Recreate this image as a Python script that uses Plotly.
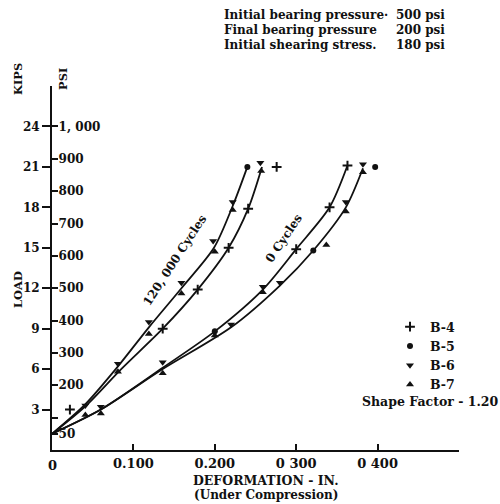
import plotly.graph_objects as go

# ---- data (deformation in inches, load in kips) ----
c120a_x = [0.0, 0.041, 0.081, 0.119, 0.159, 0.199, 0.222, 0.240]
c120a_y = [1.2, 3.4, 6.2, 9.1, 12.0, 15.0, 18.1, 21.0]
c120b_x = [0.0, 0.042, 0.085, 0.136, 0.179, 0.217, 0.241, 0.258]
c120b_y = [1.2, 3.3, 6.0, 9.0, 11.9, 15.0, 17.9, 21.0]
c0a_x = [0.0, 0.060, 0.136, 0.200, 0.259, 0.300, 0.341, 0.363]
c0a_y = [1.2, 3.0, 6.1, 8.8, 11.9, 14.9, 18.0, 21.1]
c0b_x = [0.0, 0.060, 0.136, 0.220, 0.280, 0.321, 0.361, 0.382]
c0b_y = [1.2, 3.0, 6.0, 9.1, 12.2, 14.8, 18.0, 20.9]

b4_x = [0.022, 0.136, 0.179, 0.217, 0.241, 0.276, 0.300, 0.341, 0.363]
b4_y = [3.0, 9.0, 11.9, 15.0, 17.9, 21.0, 14.9, 18.0, 21.1]
b5_x = [0.240, 0.397, 0.321, 0.200]
b5_y = [21.0, 21.0, 14.8, 8.8]
b6_x = [0.041, 0.081, 0.119, 0.159, 0.198, 0.222, 0.256, 0.060, 0.136, 0.220, 0.259, 0.280, 0.361, 0.382]
b6_y = [3.3, 6.4, 9.5, 12.4, 15.5, 18.4, 21.3, 3.2, 6.5, 9.3, 12.1, 12.4, 18.4, 21.2]
b7_x = [0.041, 0.081, 0.119, 0.159, 0.200, 0.222, 0.257, 0.060, 0.136, 0.200, 0.259, 0.337, 0.361, 0.382]
b7_y = [2.6, 5.8, 8.6, 11.6, 14.7, 17.8, 20.7, 2.7, 5.7, 8.5, 11.7, 15.2, 17.7, 20.6]

x_ticks = [0.0, 0.1, 0.2, 0.3, 0.4]
x_ticktext = ["", "0.100", "0.200", "0 300", "0 400"]
kips_ticks = [3, 6, 9, 12, 15, 18, 21, 24]
psi_ticks = [50, 100, 200, 300, 400, 500, 600, 700, 800, 900, 1000]
psi_ticktext = ["50", "", "200", "300", "400", "500", "600", "700", "800", "900", "1, 000"]
KIPS_PER_PSI = 0.024
Y_MAX = 27.0

header_left = ["Initial bearing pressure·", "Final bearing pressure", "Initial shearing stress."]
header_right = ["500 psi", "200 psi", "180 psi"]

FONT = "DejaVu Serif"
BLACK = "#111111"

fig = go.Figure()
for xs, ys in [(c120a_x, c120a_y), (c120b_x, c120b_y), (c0a_x, c0a_y), (c0b_x, c0b_y)]:
    fig.add_trace(go.Scatter(x=xs, y=ys, mode="lines", showlegend=False,
                             line=dict(color=BLACK, width=1.8, shape="spline", smoothing=0.8),
                             hoverinfo="skip"))

fig.add_trace(go.Scatter(x=b4_x, y=b4_y, mode="markers", name="B-4",
                         marker=dict(symbol="cross-thin", size=7, color=BLACK, line=dict(color=BLACK, width=2))))
fig.add_trace(go.Scatter(x=b5_x, y=b5_y, mode="markers", name="B-5",
                         marker=dict(symbol="circle", size=6, color=BLACK)))
fig.add_trace(go.Scatter(x=b6_x, y=b6_y, mode="markers", name="B-6",
                         marker=dict(symbol="triangle-down", size=7, color=BLACK)))
fig.add_trace(go.Scatter(x=b7_x, y=b7_y, mode="markers", name="B-7",
                         marker=dict(symbol="triangle-up", size=7, color=BLACK)))
# invisible trace to activate PSI axis
fig.add_trace(go.Scatter(x=[None], y=[None], yaxis="y2", showlegend=False, hoverinfo="skip"))

W, H = 500, 504
L, R, T, B = 52, 41, 86, 54
PW, PH = W - L - R, H - T - B

def px(xp):
    return (xp - L) / PW

def py(yp):
    return (H - B - yp) / PH

def fnt(size):
    return dict(family=FONT, size=size, color=BLACK, weight="bold")

annos = []
for i, (a, b) in enumerate(zip(header_left, header_right)):
    yy = 15 + 15 * i
    annos.append(dict(text=a, x=px(222), y=py(yy), xanchor="left", yanchor="middle", font=fnt(12)))
    annos.append(dict(text=b, x=px(394), y=py(yy), xanchor="left", yanchor="middle", font=fnt(12)))
annos += [
    dict(text="0", x=0, xref="x", y=py(465), xanchor="center", yanchor="middle", font=fnt(13)),
    dict(text="KIPS", x=px(18), y=py(79), textangle=-90, xanchor="center", yanchor="middle", font=fnt(11.5)),
    dict(text="PSI", x=px(63), y=py(79), textangle=-90, xanchor="center", yanchor="middle", font=fnt(11.5)),
    dict(text="LOAD", x=px(18), y=py(290), textangle=-90, xanchor="center", yanchor="middle", font=fnt(11.5)),
    dict(text="DEFORMATION - IN.", x=px(266), y=py(480), xanchor="center", yanchor="middle", font=fnt(12.5)),
    dict(text="(Under Compression)", x=px(266), y=py(495), xanchor="center", yanchor="middle", font=fnt(12)),
    dict(text="120, 000 Cycles", x=px(175), y=py(260), textangle=-57, xanchor="center", yanchor="middle", font=fnt(12)),
    dict(text="0 Cycles", x=px(284), y=py(238), textangle=-56, xanchor="center", yanchor="middle", font=fnt(12)),
    dict(text="Shape Factor - 1.20", x=px(430), y=py(401), xanchor="center", yanchor="middle", font=fnt(12.5)),
]
for a in annos:
    a.setdefault("xref", "paper")
    a.update(yref="paper", showarrow=False)

fig.update_layout(
    width=W, height=H,
    margin=dict(l=L, r=R, t=T, b=B),
    paper_bgcolor="white", plot_bgcolor="white",
    font=fnt(12),
    xaxis=dict(range=[0, 0.5], showgrid=False, zeroline=False, showline=True,
               linecolor=BLACK, linewidth=2, ticks="inside", ticklen=6, tickwidth=2,
               tickcolor=BLACK, tickvals=x_ticks, ticktext=x_ticktext, tickfont=fnt(13)),
    yaxis=dict(range=[0, Y_MAX], showgrid=False, zeroline=False, showline=True,
               linecolor=BLACK, linewidth=2, ticks="outside", ticklen=8, tickwidth=2,
               tickcolor=BLACK, tickvals=kips_ticks, tickfont=fnt(12)),
    yaxis2=dict(range=[0, Y_MAX / KIPS_PER_PSI], overlaying="y", side="left", anchor="x",
                showgrid=False, zeroline=False, showline=False, ticks="inside",
                ticklabelposition="inside", ticklen=6, tickwidth=2, tickcolor=BLACK,
                tickvals=psi_ticks, ticktext=psi_ticktext, tickfont=fnt(12)),
    legend=dict(x=px(390), y=py(312), xanchor="left", yanchor="top",
                font=fnt(12.5), bgcolor="rgba(0,0,0,0)", tracegroupgap=0),
    annotations=annos,
)

fig.write_html("out.html")
